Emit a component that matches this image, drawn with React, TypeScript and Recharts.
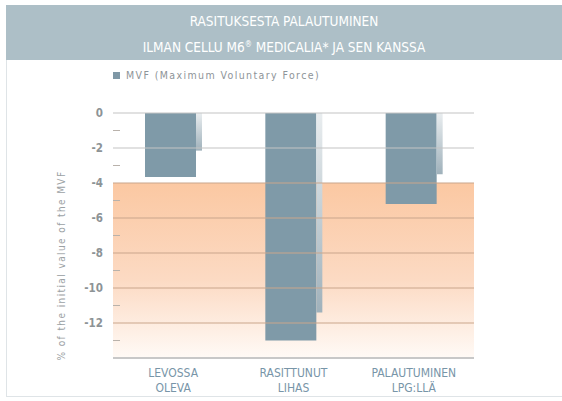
import React from 'react';
import {
    ComposedChart, Bar, XAxis, YAxis, ReferenceArea, ReferenceLine,
} from 'recharts';

// categories (line break = second row of the label)
const categories = ['LEVOSSA\nOLEVA', 'RASITTUNUT\nLIHAS', 'PALAUTUMINEN\nLPG:LLÄ'];
// % of the initial value of the MVF
const mvf = [-3.65, -13.0, -5.2];
// the thin "3d" shade drawn next to each bar
const shade = [-2.15, -11.4, -3.5];

const majorTicks = [0, -2, -4, -6, -8, -10, -12];
const allTicks = [0, -1, -2, -3, -4, -5, -6, -7, -8, -9, -10, -11, -12, -13];
const yDomain = [-14, 0];
const zoneTop = -4; // orange zone starts here

const data = categories.map((c, i) => ({ name: c, mvf: mvf[i], shade: shade[i] }));

const YTick = (props: any) => {
    const { x, y, payload } = props;
    const v = payload.value;
    if (v % 2 !== 0) {
        return <line x1={x + 10} x2={x + 17} y1={y} y2={y} stroke="#b9b2ab" strokeWidth={1} />;
    }
    return (
        <text x={x} y={y} dy={4} textAnchor="end" fill="#8d9396" fontSize={11.5} fontWeight={700}
            fontFamily="'DejaVu Sans Condensed', 'DejaVu Sans', sans-serif">
            {v}
        </text>
    );
};

const XTick = (props: any) => {
    const { x, y, payload } = props;
    const lines = String(payload.value).split('\n');
    return (
        <text x={x} y={y} textAnchor="middle" fill="#7895a8" fontSize={12}
            fontFamily="'DejaVu Sans Condensed', 'DejaVu Sans', sans-serif">
            {lines.map((l, i) => (
                <tspan key={i} x={x} dy={i === 0 ? 11 : 15}>{l}</tspan>
            ))}
        </text>
    );
};

const YLabel = (props: any) => {
    const { viewBox } = props;
    const cx = 65;
    const cy = viewBox.y + viewBox.height / 2 + 30;
    return (
        <text x={cx} y={cy} transform={`rotate(-90, ${cx}, ${cy})`} textAnchor="middle" fill="#9ba1a4"
            fontSize={10} letterSpacing={1.4} fontFamily="'DejaVu Sans Condensed', 'DejaVu Sans', sans-serif">
            % of the initial value of the MVF
        </text>
    );
};

export default function App() {
    return (
        <div style={{ position: 'absolute', left: 0, top: 0, width: 562, height: 401, background: '#fff', overflow: 'hidden' }}>
            {/* panel frame */}
            <div style={{ position: 'absolute', left: 6, top: 5, width: 560, height: 392, border: '1px solid #dfe4e7', boxSizing: 'border-box' }} />
            {/* header band */}
            <div style={{
                position: 'absolute', left: 6, top: 5, width: 556, height: 55, background: '#adbfc7', color: '#fff',
                fontFamily: "'DejaVu Sans Condensed', 'DejaVu Sans', sans-serif", fontSize: 13.5, textAlign: 'center', lineHeight: '24px', paddingTop: 4, boxSizing: 'border-box',
            }}>
                <div>RASITUKSESTA PALAUTUMINEN</div>
                <div>ILMAN CELLU M6<span style={{ fontSize: 8, verticalAlign: 5 }}>®</span> MEDICALIA* JA SEN KANSSA</div>
            </div>
            {/* legend */}
            <div style={{
                position: 'absolute', left: 113, top: 69, display: 'flex', alignItems: 'center', gap: 6,
                fontFamily: "'DejaVu Sans Condensed', sans-serif", fontSize: 10.5, color: '#8e9498', letterSpacing: 1.4,
            }}>
                <span style={{ width: 7, height: 7, background: '#7f98a6', display: 'inline-block' }} />
                <span>MVF (Maximum Voluntary Force)</span>
            </div>
            <div style={{ position: 'absolute', left: 0, top: 0 }}>
                <ComposedChart width={562} height={401} data={data} barGap={0}
                    margin={{ top: 113, right: 88, bottom: 3, left: 73 }}>
                    <defs>
                        <linearGradient id="zoneFill" x1="0" y1="0" x2="0" y2="1">
                            <stop offset="0%" stopColor="#fbc8a2" />
                            <stop offset="55%" stopColor="#fcdac3" />
                            <stop offset="100%" stopColor="#fffaf6" />
                        </linearGradient>
                        <linearGradient id="shadeFill" x1="0" y1="0" x2="0" y2="1">
                            <stop offset="0%" stopColor="#e9edef" />
                            <stop offset="100%" stopColor="#9fb1bb" />
                        </linearGradient>
                    </defs>
                    <ReferenceArea y1={yDomain[0]} y2={zoneTop} fill="url(#zoneFill)" fillOpacity={1} stroke="none" />
                    {majorTicks.map((t) => (
                        <ReferenceLine key={t} y={t} stroke={t <= zoneTop ? '#c9a68c' : '#c4c4c4'} strokeWidth={1.2} />
                    ))}
                    <XAxis dataKey="name" tick={<XTick />} tickLine={false} axisLine={{ stroke: '#c8c8c8', strokeWidth: 2 }} height={40} interval={0} />
                    <YAxis type="number" domain={yDomain} ticks={allTicks} interval={0} tick={<YTick />}
                        tickLine={false} tickSize={0} tickMargin={10} axisLine={false} width={40}
                        label={<YLabel />} />
                    <Bar dataKey="mvf" fill="#7f9aa8" barSize={51} isAnimationActive={false} />
                    <Bar dataKey="shade" fill="url(#shadeFill)" barSize={6} isAnimationActive={false} />
                </ComposedChart>
            </div>
        </div>
    );
}
